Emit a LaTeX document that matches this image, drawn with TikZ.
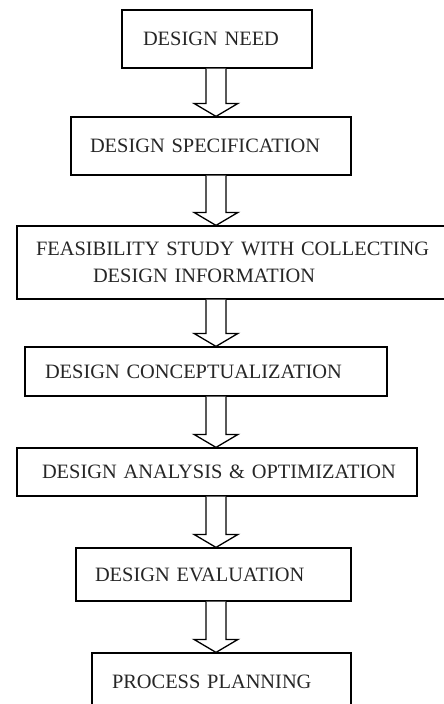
\documentclass[tikz,border=0pt]{standalone}
\usepackage{fontspec}
\setmainfont{Liberation Serif}
\usetikzlibrary{calc}
\tikzset{
  stepbox/.style={draw=black, line width=1.2pt, rectangle, inner xsep=0pt, inner ysep=0pt,
    align=left, font=\fontsize{20.4}{27}\selectfont, text=black!85},
  barrow/.style={draw=black, line width=1.3pt, line join=miter, fill=white}
}
\newcommand\blockarrow[2]{%
  \draw[barrow] let \p1=(#1.south -| ax), \p2=(#2.north -| ax) in
   (\x1-10pt,\y1) -- (\x1-10pt,\y2+13pt) -- (\x1-22pt,\y2+13pt) -- (\x2,\y2)
   -- (\x1+22pt,\y2+13pt) -- (\x1+10pt,\y2+13pt) -- (\x1+10pt,\y1);}
\begin{document}
\begin{tikzpicture}[x=1pt,y=-1pt]
\useasboundingbox (0,0) rectangle (444,704);
\clip (0,0) rectangle (444,704);
\coordinate (ax) at (216,0);
\node[stepbox, text width=190pt, minimum height=58pt] (b1) at (217,39) {\hspace*{21pt}DESIGN NEED};
\node[stepbox, text width=280pt, minimum height=58pt] (b2) at (211,146) {\hspace*{19pt}DESIGN SPECIFICATION};
\node[stepbox, text width=435pt, minimum height=73pt] (b3) at (234.5,262.5) {\hspace*{19pt}FEASIBILITY STUDY WITH COLLECTING\\\hspace*{76pt}DESIGN INFORMATION};
\node[stepbox, text width=362pt, minimum height=49pt] (b4) at (206,371.5) {\hspace*{20pt}DESIGN CONCEPTUALIZATION};
\node[stepbox, text width=400pt, minimum height=48pt] (b5) at (217,472) {\hspace*{25pt}DESIGN ANALYSIS \& OPTIMIZATION};
\node[stepbox, text width=275pt, minimum height=53pt] (b6) at (213.5,574.5) {\hspace*{19pt}DESIGN EVALUATION};
\node[stepbox, text width=259pt, minimum height=57pt] (b7) at (221.5,681.5) {\hspace*{20pt}PROCESS PLANNING};
\blockarrow{b1}{b2}
\blockarrow{b2}{b3}
\blockarrow{b3}{b4}
\blockarrow{b4}{b5}
\blockarrow{b5}{b6}
\blockarrow{b6}{b7}
\end{tikzpicture}
\end{document}
